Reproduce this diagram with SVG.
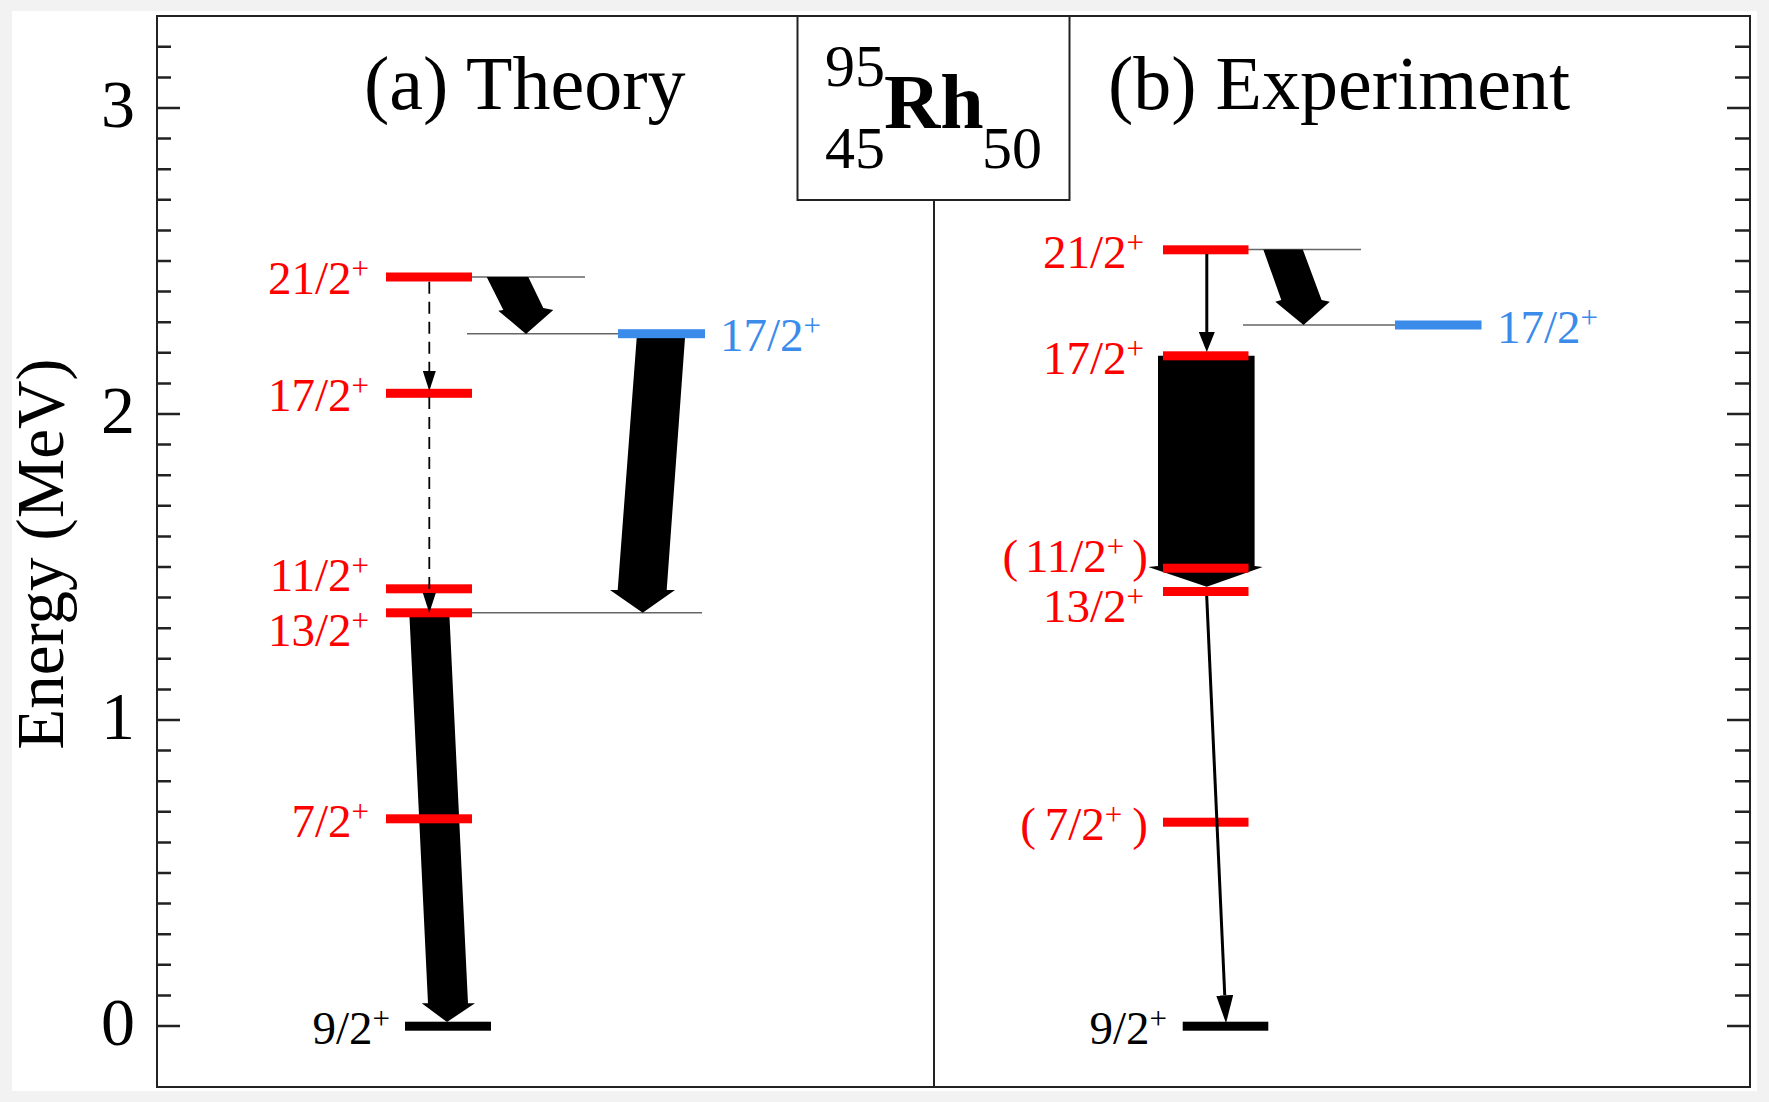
<svg xmlns="http://www.w3.org/2000/svg" width="1769" height="1102" viewBox="0 0 1769 1102">
<style>
  text { font-family: "Liberation Serif", "Times New Roman", serif; }
  .lab { font-size: 47px; }
  .sup { font-size: 31px; }
  .red { fill: #ff0000; }
  .blue { fill: #3b8beb; }
  .blk { fill: #000000; }
  .frame { fill: none; stroke: #222222; stroke-width: 2; }
  .tick { fill: none; stroke: #222222; stroke-width: 2.5; }
  .guide { stroke: #666666; stroke-width: 1.6; fill: none; }
  .fat { fill: #000000; stroke: none; }
  .thin { stroke: #000000; stroke-width: 3; fill: none; }
  .dash { stroke: #000000; stroke-width: 1.8; stroke-dasharray: 12 8; fill: none; }
  .axnum { font-size: 68px; text-anchor: end; fill: #000; }
  .title { font-size: 76px; fill: #000; }
  .nuc { font-size: 60px; fill: #000; }
</style>
<defs>
  <marker id="ah-s" markerUnits="userSpaceOnUse" viewBox="0 0 20 13" markerWidth="20" markerHeight="13" refX="0" refY="6.5" orient="auto">
    <path d="M0,0 L20,6.5 L0,13 Z" fill="#000"/>
  </marker>
  <marker id="ah-m" markerUnits="userSpaceOnUse" viewBox="0 0 20 16" markerWidth="20" markerHeight="16" refX="0" refY="8" orient="auto">
    <path d="M0,0 L20,8 L0,16 Z" fill="#000"/>
  </marker>
  <marker id="ah-l" markerUnits="userSpaceOnUse" viewBox="0 0 28 17" markerWidth="28" markerHeight="17" refX="0" refY="8.5" orient="auto">
    <path d="M0,0 L28,8.5 L0,17 Z" fill="#000"/>
  </marker>
</defs>

<rect x="0" y="0" width="1769" height="1102" fill="#f2f2f2"/>
<rect x="12" y="11" width="1745" height="1080" fill="#ffffff"/>

<g id="axes">
  <rect class="frame" x="157" y="16" width="1593" height="1071"/>
  <line class="frame" x1="934" y1="200" x2="934" y2="1087" stroke-width="1.8"/>
  <path class="tick" d="M157,1026h23 M157,720h23 M157,414h23 M157,108h23
    M157,995.4h14 M157,964.8h14 M157,934.2h14 M157,903.6h14 M157,873h14 M157,842.4h14 M157,811.8h14 M157,781.2h14 M157,750.6h14
    M157,689.4h14 M157,658.8h14 M157,628.2h14 M157,597.6h14 M157,567h14 M157,536.4h14 M157,505.8h14 M157,475.2h14 M157,444.6h14
    M157,383.4h14 M157,352.8h14 M157,322.2h14 M157,291.6h14 M157,261h14 M157,230.4h14 M157,199.8h14 M157,169.2h14 M157,138.6h14
    M157,77.4h14 M157,46.8h14"/>
  <path class="tick" d="M1750,1026h-23 M1750,720h-23 M1750,414h-23 M1750,108h-23
    M1750,995.4h-15 M1750,964.8h-15 M1750,934.2h-15 M1750,903.6h-15 M1750,873h-15 M1750,842.4h-15 M1750,811.8h-15 M1750,781.2h-15 M1750,750.6h-15
    M1750,689.4h-15 M1750,658.8h-15 M1750,628.2h-15 M1750,597.6h-15 M1750,567h-15 M1750,536.4h-15 M1750,505.8h-15 M1750,475.2h-15 M1750,444.6h-15
    M1750,383.4h-15 M1750,352.8h-15 M1750,322.2h-15 M1750,291.6h-15 M1750,261h-15 M1750,230.4h-15 M1750,199.8h-15 M1750,169.2h-15 M1750,138.6h-15
    M1750,77.4h-15 M1750,46.8h-15"/>
  <text class="axnum" x="135" y="1045">0</text>
  <text class="axnum" x="135" y="739">1</text>
  <text class="axnum" x="135" y="433">2</text>
  <text class="axnum" x="135" y="127">3</text>
  <text transform="translate(63,554) rotate(-90)" text-anchor="middle" font-size="67" fill="#000">Energy (MeV)</text>
</g>

<g id="titles">
  <text class="title" x="364" y="109">(a) Theory</text>
  <text class="title" x="1108" y="109">(b) Experiment</text>
</g>

<g id="nucleus">
  <rect x="797.5" y="16" width="272" height="184" fill="#fff" stroke="#222" stroke-width="2"/>
  <text class="nuc" x="825" y="86">95</text>
  <text x="884" y="128" font-size="78" font-weight="bold" fill="#000">Rh</text>
  <text class="nuc" x="825" y="168">45</text>
  <text class="nuc" x="982" y="168">50</text>
</g>

<g id="connectors-back">
  <line class="guide" x1="472" y1="277" x2="585" y2="277"/>
  <line class="guide" x1="467" y1="333.7" x2="618" y2="333.7"/>
  <line class="guide" x1="472" y1="612.8" x2="702" y2="612.8"/>
  <line class="guide" x1="1248" y1="249.5" x2="1361" y2="249.5"/>
  <line class="guide" x1="1243" y1="325" x2="1395" y2="325"/>
  <polygon class="fat" points="486.7,277 528.3,277 543.3,308 553.3,310 526,334 498.3,310.7 503.3,310"/>
  <polygon class="fat" points="637,333.7 685.3,333.7 666.7,590 675,590 642.7,612.7 610,590 617.7,590"/>
  <polygon class="fat" points="409.3,612.8 449.3,612.8 468,1003.3 475,1003.3 447,1022 421.7,1003.3 428,1003.3"/>
  <polygon class="fat" points="1263.3,249.5 1302.8,249.5 1321.6,300 1329.8,301.7 1303.5,325 1275.3,301.7 1281.3,300"/>
  <polygon class="fat" points="1158,355.8 1254.6,355.8 1254.6,566 1262.7,567 1206.7,586.7 1148.3,567 1158,566"/>
</g>

<g id="theory-levels">
  <g id="t-21-2">
    <rect class="red" x="386" y="272.5" width="86" height="9"/>
    <text class="lab red" x="369" y="294" text-anchor="end">21/2<tspan class="sup" dy="-15">+</tspan></text>
  </g>
  <g id="t-17-2-blue">
    <rect class="blue" x="618" y="329.2" width="87" height="9"/>
    <text class="lab blue" x="720" y="351">17/2<tspan class="sup" dy="-15">+</tspan></text>
  </g>
  <g id="t-17-2">
    <rect class="red" x="386" y="388.8" width="86" height="9"/>
    <text class="lab red" x="369" y="410.5" text-anchor="end">17/2<tspan class="sup" dy="-15">+</tspan></text>
  </g>
  <g id="t-11-2">
    <rect class="red" x="386" y="584.3" width="86" height="9"/>
    <text class="lab red" x="369" y="590.7" text-anchor="end">11/2<tspan class="sup" dy="-15">+</tspan></text>
  </g>
  <g id="t-13-2">
    <rect class="red" x="386" y="608.3" width="86" height="9"/>
    <text class="lab red" x="369" y="646" text-anchor="end">13/2<tspan class="sup" dy="-15">+</tspan></text>
  </g>
  <g id="t-7-2">
    <rect class="red" x="386" y="814.3" width="86" height="9"/>
    <text class="lab red" x="369" y="836.5" text-anchor="end">7/2<tspan class="sup" dy="-15">+</tspan></text>
  </g>
  <g id="t-9-2">
    <rect class="blk" x="405" y="1021.7" width="86" height="9"/>
    <text class="lab blk" x="390" y="1044" text-anchor="end">9/2<tspan class="sup" dy="-15">+</tspan></text>
  </g>
</g>

<g id="experiment-levels">
  <g id="e-21-2">
    <rect class="red" x="1163" y="245.3" width="85.5" height="9"/>
    <text class="lab red" x="1144" y="268" text-anchor="end">21/2<tspan class="sup" dy="-15">+</tspan></text>
  </g>
  <g id="e-17-2-blue">
    <rect class="blue" x="1395" y="320.5" width="86.5" height="9"/>
    <text class="lab blue" x="1497" y="343">17/2<tspan class="sup" dy="-15">+</tspan></text>
  </g>
  <g id="e-17-2">
    <rect class="red" x="1163" y="351.3" width="85.5" height="9"/>
    <text class="lab red" x="1144" y="373.5" text-anchor="end">17/2<tspan class="sup" dy="-15">+</tspan></text>
  </g>
  <g id="e-11-2">
    <rect class="red" x="1163" y="563.7" width="85.5" height="9"/>
    <text class="lab red" x="1148" y="571.7" text-anchor="end">(<tspan dx="7">11/2</tspan><tspan class="sup" dy="-15">+</tspan><tspan dx="8" dy="15">)</tspan></text>
  </g>
  <g id="e-13-2">
    <rect class="red" x="1163" y="587" width="85.5" height="9"/>
    <text class="lab red" x="1144" y="621.7" text-anchor="end">13/2<tspan class="sup" dy="-15">+</tspan></text>
  </g>
  <g id="e-7-2">
    <rect class="red" x="1163" y="817.7" width="85.5" height="9"/>
    <text class="lab red" x="1148" y="840" text-anchor="end">(<tspan dx="9">7/2</tspan><tspan class="sup" dy="-15">+</tspan><tspan dx="10" dy="15">)</tspan></text>
  </g>
  <g id="e-9-2">
    <rect class="blk" x="1182.7" y="1021.7" width="85.6" height="9"/>
    <text class="lab blk" x="1167" y="1044" text-anchor="end">9/2<tspan class="sup" dy="-15">+</tspan></text>
  </g>
</g>

<g id="connectors-front">
  <line class="dash" x1="429.3" y1="281.7" x2="429.3" y2="371" marker-end="url(#ah-s)"/>
  <line class="dash" x1="429.3" y1="397" x2="429.3" y2="593" marker-end="url(#ah-s)"/>
  <line class="thin" x1="1206.8" y1="254" x2="1206.8" y2="332" marker-end="url(#ah-m)"/>
  <line class="thin" x1="1206.7" y1="596" x2="1224.75" y2="995.3" marker-end="url(#ah-l)"/>
</g>
</svg>
